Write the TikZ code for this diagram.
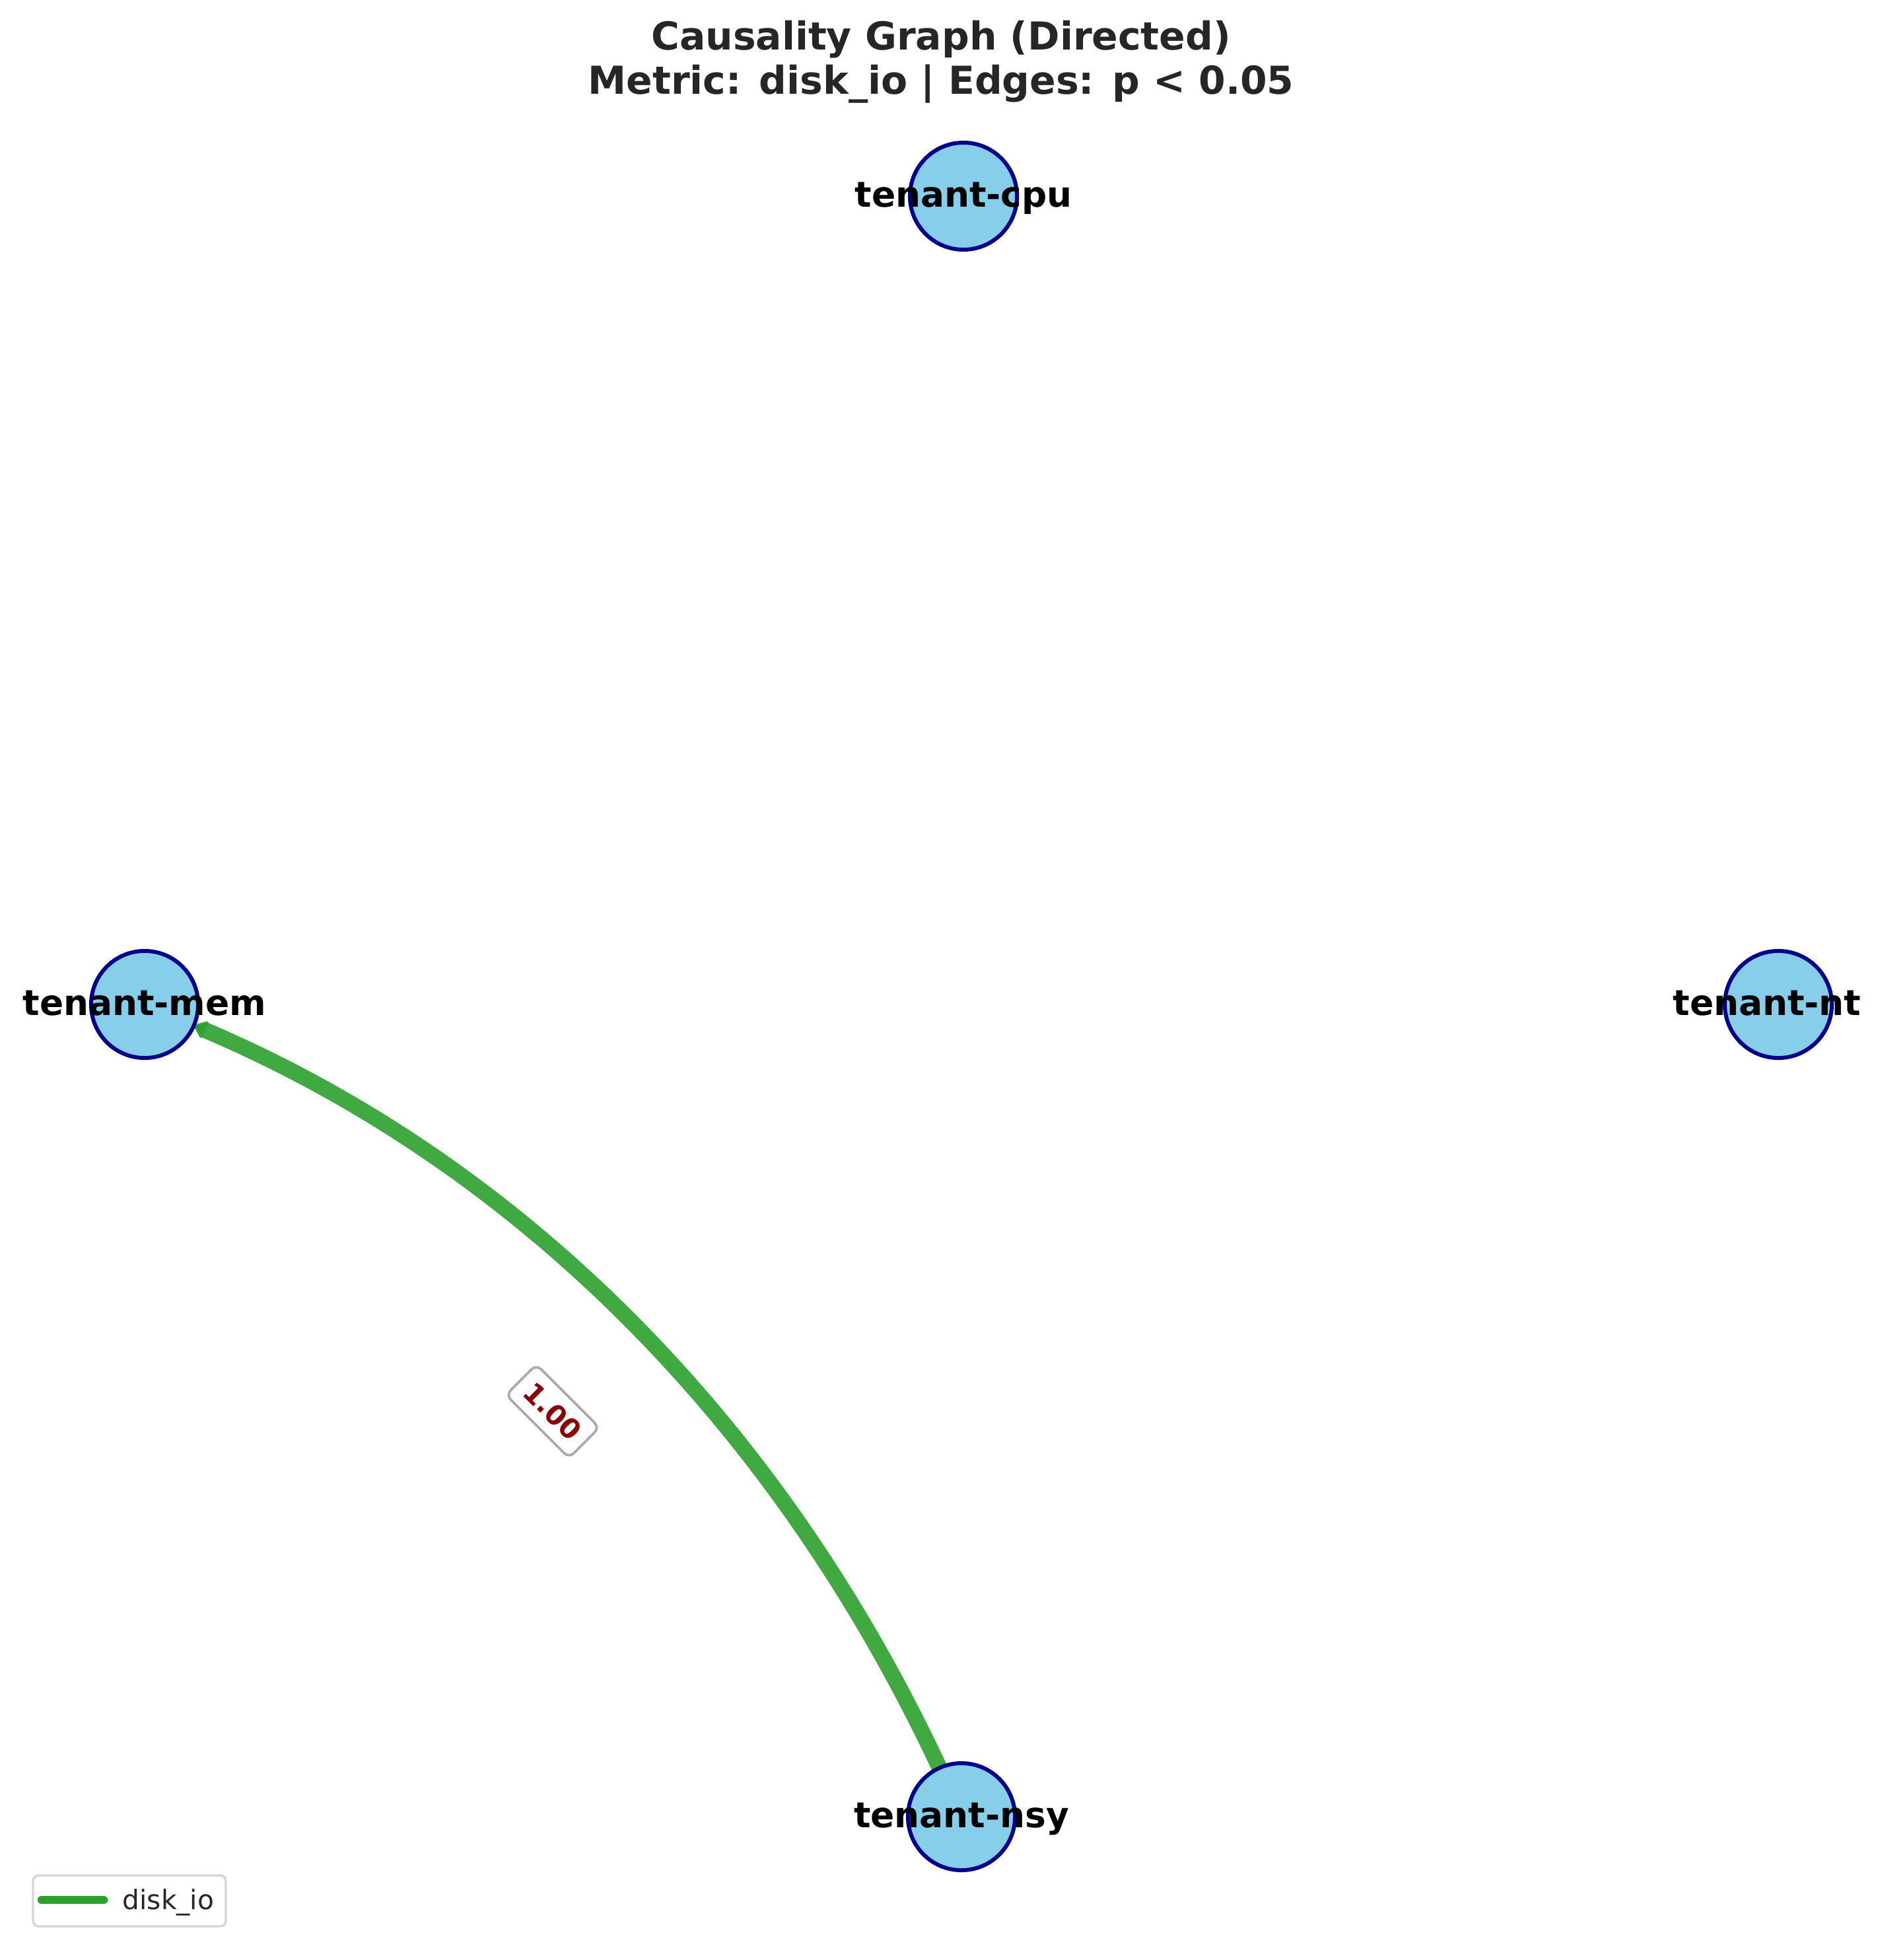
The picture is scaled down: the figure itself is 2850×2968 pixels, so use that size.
\documentclass[tikz,border=0pt]{standalone}
\usepackage{fontspec}
\setmainfont{DejaVu Sans}
\usetikzlibrary{backgrounds,arrows.meta}
\definecolor{sky}{HTML}{87CEEB}
\definecolor{navyc}{HTML}{00008B}
\definecolor{edgegreen}{HTML}{2CA02C}
\definecolor{titlegray}{HTML}{262626}
\definecolor{lblred}{HTML}{8B0000}
\definecolor{boxgray}{HTML}{AAAAAA}
\definecolor{legframe}{HTML}{D5D5D5}
\begin{document}
\begin{tikzpicture}[x=0.24pt,y=-0.24pt,
  tnode/.style={circle,fill=sky,draw=navyc,line width=1.44pt,minimum size=38.9pt,inner sep=0pt},
  tlabel/.style={anchor=base,font=\fontsize{12.8pt}{15pt}\selectfont\bfseries,text=black,inner sep=0pt,yshift=-3.84pt},
  titletext/.style={anchor=base,font=\fontsize{14pt}{17pt}\selectfont\bfseries,text=titlegray,inner sep=0pt},
  edgeline/.style={draw=edgegreen,draw opacity=0.9,line width=5.76pt},
  wlabel/.style={fill=white,draw=boxgray,line width=0.9pt,rounded corners=2.4pt,minimum width=32.4pt,minimum height=15.6pt,inner sep=0pt,font=\fontsize{10pt}{12pt}\selectfont\bfseries,text=lblred},
  legbox/.style={draw=legframe,fill=white,line width=0.8pt,rounded corners=2pt,minimum width=70.08pt,minimum height=18.48pt,inner sep=0pt},
  legline/.style={draw=edgegreen,line width=3pt,line cap=round},
  legtext/.style={anchor=base west,inner sep=0pt,font=\fontsize{9.75pt}{12pt}\selectfont,text=titlegray}
]
\useasboundingbox (0,0) rectangle (2850,2968);

% title
\node[titletext] (title1) at (1425,75) {Causality Graph (Directed)};
\node[titletext] (title2) at (1425,142) {Metric: disk\_io | Edges: p < 0.05};

% nodes
\node[tnode] (cpu) at (1459,297) {};
\node[tnode] (mem) at (219,1521) {};
\node[tnode] (nt)  at (2693,1521) {};
\node[tnode] (nsy) at (1456,2751) {};

% edge
\begin{scope}[on background layer]
\draw[edgeline,shorten >=19.5pt,-{Triangle[length=5pt,width=7.5pt,round]}] (nsy.center) .. controls (1207.6,2176.1) and (795.3,1766.1) .. (mem.center);
\end{scope}

% node labels
\node[tlabel] (cpulbl) at (cpu.center) {tenant-cpu};
\node[tlabel] (memlbl) at (mem.center) {tenant-mem};
\node[tlabel] (ntlbl)  at (2676,1521) {tenant-nt};
\node[tlabel] (nsylbl) at (nsy.center) {tenant-nsy};

% weight label
\node[wlabel,rotate=-45] (w) at (837,2137) {1.00};

% legend
\node[legbox] (legend) at (196,2878.5) {};
\coordinate (leg1) at (63,2877);
\coordinate (leg2) at (157,2877);
\draw[legline] (leg1) -- (leg2);
\node[legtext] (legtxt) at (185,2891) {disk\_io};
\end{tikzpicture}
\end{document}
